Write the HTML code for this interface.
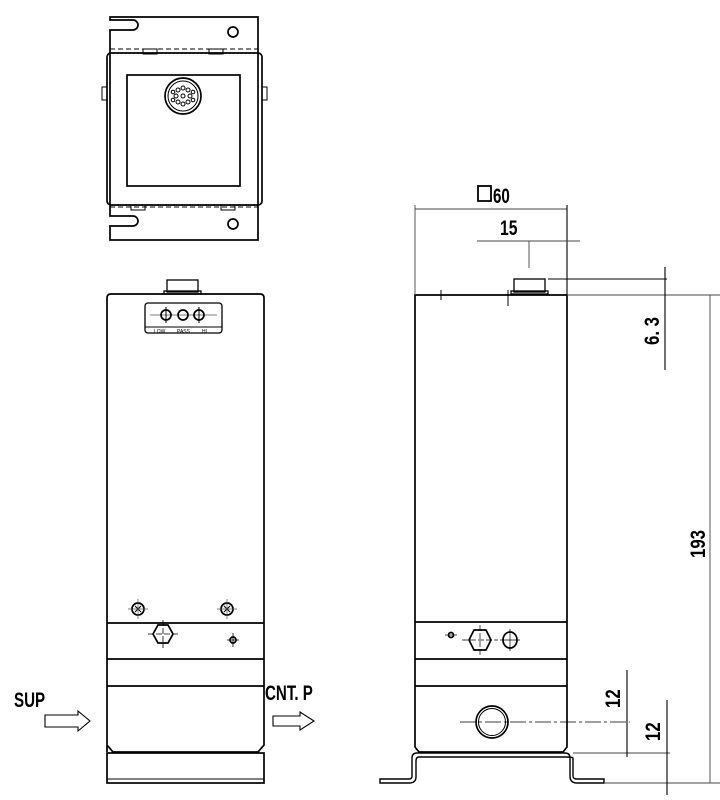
<!DOCTYPE html>
<html><head><meta charset="utf-8"><style>
html,body{margin:0;padding:0;background:#fff;width:720px;height:800px;overflow:hidden}
text{font-family:"Liberation Sans",sans-serif}
</style></head><body>
<svg width="720" height="800" viewBox="0 0 720 800" xmlns="http://www.w3.org/2000/svg">
<g fill="none" stroke="#000" stroke-width="1.7">
<!-- TOP VIEW -->
<path d="M110,17 H258 V240 H110 V226 H133 A5,5 0 0 0 133,216 H110 V30 H133 A5,5 0 0 0 133,20 H110 Z"/>
<circle cx="233" cy="32" r="5"/>
<circle cx="233" cy="224" r="5"/>
<rect x="107" y="53" width="155" height="152" rx="4"/>
<line x1="110" y1="49" x2="258" y2="49" stroke-dasharray="5,3" stroke-width="1"/>
<line x1="110" y1="207" x2="258" y2="207" stroke-dasharray="5,3" stroke-width="1"/>
<rect x="143" y="49" width="14" height="5" stroke-width="1"/>
<rect x="209" y="49" width="14" height="5" stroke-width="1"/>
<rect x="131" y="205" width="14" height="5" stroke-width="1"/>
<rect x="221" y="205" width="14" height="5" stroke-width="1"/>
<rect x="102" y="87" width="5" height="13" stroke-width="1"/>
<rect x="262" y="87" width="5" height="13" stroke-width="1"/>
<rect x="127" y="75" width="113" height="111"/>
<circle cx="183" cy="96" r="18"/>
<circle cx="183" cy="96" r="15" stroke-width="1"/>
<g stroke-width="1">
<circle cx="183" cy="96" r="2"/><circle cx="178" cy="90" r="2"/><circle cx="188" cy="90" r="2"/>
<circle cx="176" cy="96" r="2"/><circle cx="190" cy="96" r="2"/><circle cx="178" cy="102" r="2"/>
<circle cx="188" cy="102" r="2"/><circle cx="183" cy="88" r="2"/><circle cx="183" cy="104" r="2"/>
<circle cx="173" cy="92" r="1.8"/><circle cx="193" cy="92" r="1.8"/><circle cx="173" cy="100" r="1.8"/><circle cx="193" cy="100" r="1.8"/>
</g>

<!-- FRONT VIEW -->
<rect x="167" y="280" width="31" height="12" stroke-width="1.3"/>
<rect x="164" y="291" width="37" height="3" stroke-width="1.3"/>
<path d="M107,752 V298 Q107,294 111,294 H260 Q264,294 264,298 V745 L258,752 H113 L107,745"/>
<rect x="145" y="303" width="77" height="30" rx="3" stroke-width="1.3"/>
<line x1="145" y1="327" x2="222" y2="327" stroke-width="1"/>
<line x1="150" y1="315" x2="217" y2="315" stroke-width="0.8" stroke="#555"/>
<circle cx="166" cy="315" r="5"/><circle cx="183" cy="315" r="5"/><circle cx="199" cy="315" r="5"/>
<line x1="166" y1="307" x2="166" y2="323" stroke-width="1"/><line x1="199" y1="307" x2="199" y2="323" stroke-width="1"/>
<line x1="107" y1="623" x2="264" y2="623"/>
<line x1="107" y1="659" x2="264" y2="659"/>
<line x1="107" y1="686" x2="264" y2="686"/>
<circle cx="138" cy="609" r="6"/><circle cx="227" cy="609" r="6"/>
<path d="M135,606 l6,6 M141,606 l-6,6 M224,606 l6,6 M230,606 l-6,6" stroke-width="1"/>
<path d="M128,609 h20 M138,599 v20 M217,609 h20 M227,599 v20" stroke-width="0.7" stroke="#555"/>
<polygon points="153,634 158,625 168,625 173,634 168,643 158,643"/>
<path d="M148,634 h30 M163,620 v28" stroke-width="0.8" stroke-dasharray="6,2"/>
<circle cx="233" cy="640" r="3"/>
<path d="M227,640 h12 M233,633 v14" stroke-width="0.8"/>
<rect x="107" y="753" width="157" height="30"/>
<line x1="107" y1="779" x2="264" y2="779" stroke-width="1"/>

<!-- SIDE VIEW -->
<rect x="514" y="279" width="31" height="13" stroke-width="1.3"/>
<rect x="511" y="291" width="37" height="3" stroke-width="1.3"/>
<path d="M415,295 H567 V747 L563,752 H419 L415,747 Z"/>
<line x1="441" y1="290" x2="441" y2="300" stroke-width="1"/>
<line x1="508" y1="290" x2="508" y2="306" stroke-width="1"/>
<line x1="415" y1="622" x2="567" y2="622"/>
<line x1="415" y1="659" x2="567" y2="659"/>
<line x1="415" y1="686" x2="567" y2="686"/>
<circle cx="451" cy="635" r="2.5"/>
<path d="M445,635 h12" stroke-width="0.7"/>
<polygon points="469,640 474,630 486,630 491,640 486,650 474,650"/>
<path d="M462,640 h36 M480,625 v30" stroke-width="0.7" stroke-dasharray="6,2"/>
<ellipse cx="510" cy="640" rx="7" ry="8"/>
<path d="M500,640 h20 M510,629 v22" stroke-width="0.7"/>
<circle cx="492" cy="722" r="16"/>
<circle cx="492" cy="722" r="13.5" stroke-width="1"/>
<line x1="460" y1="722" x2="630" y2="722" stroke-width="0.8" stroke-dasharray="16,3,3,3"/>
<path d="M380,779 H409 Q412,779 412,776 V758 Q412,753 417,753 H565 Q570,753 570,758 V776 Q570,783 577,783 H604 V779 H577 Q573,779 573,776 V758 Q573,757 566,757 H419 Q416,757 416,761 V777 Q416,783 409,783 H380 Z" stroke-width="1.4"/>

<!-- dimensions -->
<g stroke-width="0.9" stroke="#444">
<line x1="415" y1="209" x2="567" y2="209"/>
<line x1="415" y1="205" x2="415" y2="295"/>
<line x1="567" y1="205" x2="567" y2="295" stroke="#000" stroke-width="1.1"/>
<line x1="477" y1="241" x2="580" y2="241"/>
<line x1="529" y1="241" x2="529" y2="268"/>
<line x1="548" y1="279" x2="667" y2="279" stroke="#000"/>
<line x1="567" y1="295" x2="720" y2="295"/>
<line x1="665" y1="267" x2="665" y2="370" stroke="#000" stroke-width="1.1"/>
<line x1="710" y1="295" x2="710" y2="783"/>
<line x1="573" y1="753" x2="670" y2="753"/>
<line x1="605" y1="783" x2="720" y2="783"/>
<line x1="627" y1="670" x2="627" y2="757" stroke="#000" stroke-width="1.1"/>
<line x1="667" y1="700" x2="667" y2="795" stroke="#000" stroke-width="1.1"/>
</g>
<!-- big arrows -->
<path d="M45,715 H78 V711 L90,721 L78,731 V727 H45 Z" stroke-width="1.1"/>
<path d="M273,716 H300 V712 L314,721 L300,730 V726 H273 Z" stroke-width="1.1"/>
</g>
<g fill="#000">
<text x="154" y="333" font-size="5">LOW</text>
<text x="177" y="333" font-size="5">PASS</text>
<text x="202" y="333" font-size="5">HI</text>
</g>
<g fill="#000" font-size="21" font-weight="bold">
<text transform="translate(14,707) scale(0.72,1)">SUP</text>
<text transform="translate(265,700) scale(0.72,1)">CNT. P</text>
<rect x="478" y="186" width="13" height="15" fill="none" stroke="#000" stroke-width="1.8"/>
<text transform="translate(493,203) scale(0.72,1)">60</text>
<text transform="translate(500,235) scale(0.75,1)">15</text>
<text transform="translate(659,345) rotate(-90) scale(0.8,1)">6. 3</text>
<text transform="translate(705,558) rotate(-90) scale(0.8,1)">193</text>
<text transform="translate(620,708) rotate(-90) scale(0.8,1)">12</text>
<text transform="translate(660,741) rotate(-90) scale(0.8,1)">12</text>
</g>
</svg>
</body></html>
